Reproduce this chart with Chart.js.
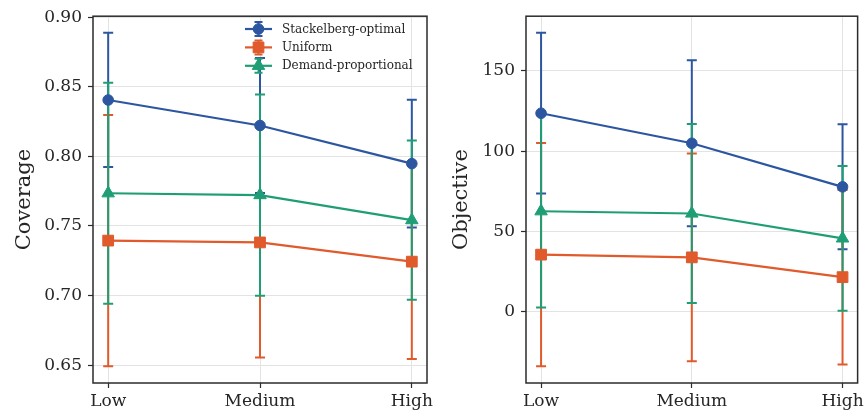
<!DOCTYPE html>
<html><head><meta charset="utf-8">
<script src="https://cdn.jsdelivr.net/npm/chart.js@4"></script>
<style>
html,body{margin:0;padding:0;background:#fff;}
#wrap{position:relative;width:867px;height:416px;overflow:hidden;}
#c1{position:absolute;left:0;top:0;}
#c2{position:absolute;left:437px;top:0;}
</style></head><body>
<div id="wrap"><canvas id="c1" width="437" height="416"></canvas><canvas id="c2" width="430" height="416"></canvas></div>
<script>
// ---- data ----
const categories = ['Low', 'Medium', 'High'];
const seriesNames = ['Stackelberg-optimal', 'Uniform', 'Demand-proportional'];

const coverageStackelberg    = [0.8405, 0.8222, 0.7948];
const coverageStackelbergErr = [0.0482, 0.0485, 0.0458];
const coverageUniform        = [0.7395, 0.7382, 0.7244];
const coverageUniformErr     = [0.0903, 0.0827, 0.0699];
const coverageDemand         = [0.7735, 0.7722, 0.7542];
const coverageDemandErr      = [0.0794, 0.0723, 0.0572];

const objectiveStackelberg    = [123.6, 104.9, 77.8];
const objectiveStackelbergErr = [50.0, 51.6, 38.9];
const objectiveUniform        = [35.6, 33.9, 21.6];
const objectiveUniformErr     = [69.5, 64.6, 54.3];
const objectiveDemand         = [62.6, 61.2, 45.7];
const objectiveDemandErr      = [59.9, 55.7, 45.0];

const coverageTicks  = [0.65, 0.70, 0.75, 0.80, 0.85, 0.90];
const objectiveTicks = [0, 50, 100, 150];

// ---- styles ----
const colors = ['#2c56a0', '#e05a2c', '#1f9e75'];
const pointStyles = ['circle', 'rect', 'triangle'];
const pointRadii = [5.3, 7.6, 7.2];
const FONT = "'DejaVu Serif', serif";
Chart.defaults.font.family = FONT;
Chart.defaults.color = '#262626';

function drawMarker(ctx, style, r, x, y, color) {
  ctx.save();
  ctx.fillStyle = color; ctx.strokeStyle = color; ctx.lineWidth = 1;
  ctx.beginPath();
  if (style === 'circle') {
    ctx.arc(x, y, r, 0, Math.PI * 2);
  } else if (style === 'rect') {
    const s = Math.SQRT1_2 * r;
    ctx.rect(x - s, y - s, 2 * s, 2 * s);
  } else {
    let rad = 0;
    ctx.moveTo(x + Math.sin(rad) * r, y - Math.cos(rad) * r);
    rad += 2 * Math.PI / 3;
    ctx.lineTo(x + Math.sin(rad) * r, y - Math.cos(rad) * r);
    rad += 2 * Math.PI / 3;
    ctx.lineTo(x + Math.sin(rad) * r, y - Math.cos(rad) * r);
    ctx.closePath();
  }
  ctx.fill(); ctx.stroke();
  ctx.restore();
}

const errorBarPlugin = {
  id: 'errorBars',
  beforeDatasetsDraw(chart, args, opts) {
    const ctx = chart.ctx, xs = chart.scales.x, ys = chart.scales.y;
    const errs = opts.errors;
    ctx.save();
    ctx.lineWidth = 2;
    chart.data.datasets.forEach((ds, di) => {
      ctx.strokeStyle = ds.borderColor;
      ds.data.forEach((p, i) => {
        const e = errs[di][i];
        const x = xs.getPixelForValue(p.x);
        const y1 = ys.getPixelForValue(p.y + e);
        const y2 = ys.getPixelForValue(p.y - e);
        ctx.beginPath();
        ctx.moveTo(x, y1); ctx.lineTo(x, y2);
        ctx.moveTo(x - 5, y1); ctx.lineTo(x + 5, y1);
        ctx.moveTo(x - 5, y2); ctx.lineTo(x + 5, y2);
        ctx.stroke();
      });
    });
    ctx.restore();
  }
};

const framePlugin = {
  id: 'frame',
  afterDatasetsDraw(chart) {
    const {left, right, top, bottom} = chart.chartArea;
    const ctx = chart.ctx;
    ctx.save();
    ctx.strokeStyle = '#2b2b2b';
    ctx.lineWidth = 1.5;
    ctx.strokeRect(left, top, right - left, bottom - top);
    ctx.restore();
  }
};

const legendPlugin = {
  id: 'customLegend',
  afterDraw(chart, args, opts) {
    if (!opts.show) return;
    const ctx = chart.ctx;
    const x0 = opts.x, y0 = opts.y, rowH = 18.4;
    ctx.save();
    ctx.font = "12px " + FONT;
    ctx.textBaseline = 'middle';
    ctx.fillStyle = '#262626';
    seriesNames.forEach((name, i) => {
      const y = y0 + i * rowH;
      const c = colors[i];
      ctx.strokeStyle = c;
      ctx.lineWidth = 2.2;
      ctx.beginPath();
      ctx.moveTo(x0, y); ctx.lineTo(x0 + 27, y);
      ctx.stroke();
      ctx.lineWidth = 2;
      const xm = x0 + 13.5;
      ctx.beginPath();
      ctx.moveTo(xm, y - 7); ctx.lineTo(xm, y + 7);
      ctx.moveTo(xm - 4, y - 7); ctx.lineTo(xm + 4, y - 7);
      ctx.moveTo(xm - 4, y + 7); ctx.lineTo(xm + 4, y + 7);
      ctx.stroke();
      drawMarker(ctx, pointStyles[i], pointRadii[i], xm, y, c);
      ctx.fillStyle = '#262626';
      ctx.fillText(name, x0 + 37, y + 0.5);
    });
    ctx.restore();
  }
};

function limits(means, errs) {
  let lo = Infinity, hi = -Infinity;
  means.forEach((m, k) => m.forEach((v, i) => {
    lo = Math.min(lo, v - errs[k][i]); hi = Math.max(hi, v + errs[k][i]);
  }));
  const pad = 0.05 * (hi - lo);
  return [lo - pad, hi + pad];
}

function makeChart(canvas, means, errs, ticks, title, fmt, yWidth, padRight, padTop, legend) {
  const [ymin, ymax] = limits(means, errs);
  const datasets = means.map((m, k) => ({
    label: seriesNames[k],
    data: m.map((v, i) => ({x: i, y: v})),
    borderColor: colors[k],
    backgroundColor: colors[k],
    borderWidth: 2.2,
    pointStyle: pointStyles[k],
    pointRadius: pointRadii[k],
    pointBorderWidth: 1,
    pointBackgroundColor: colors[k],
    pointBorderColor: colors[k],
    tension: 0,
    order: 3 - k
  }));
  return new Chart(canvas, {
    type: 'line',
    data: {datasets},
    options: {
      responsive: false,
      animation: false,
      events: [],
      layout: {padding: {left: 0, right: padRight, top: padTop, bottom: 0}},
      plugins: {
        legend: {display: false},
        tooltip: {enabled: false},
        errorBars: {errors: errs},
        customLegend: legend
      },
      scales: {
        x: {
          type: 'linear', min: -0.1, max: 2.1,
          afterBuildTicks: (s) => { s.ticks = categories.map((_, i) => ({value: i})); },
          afterFit: (s) => { s.height = 33; },
          ticks: {callback: (v) => categories[v], font: {size: 17}, padding: 3, maxRotation: 0, color: '#262626'},
          grid: {color: '#e3e3e3', lineWidth: 1, tickColor: '#2b2b2b', tickLength: 5, tickWidth: 1.2},
          border: {display: false}
        },
        y: {
          type: 'linear', min: ymin, max: ymax,
          afterBuildTicks: (s) => { s.ticks = ticks.map(v => ({value: v})); },
          afterFit: (s) => { s.width = yWidth; },
          ticks: {callback: fmt, font: {size: 17}, padding: 6, color: '#262626'},
          grid: {color: '#e3e3e3', lineWidth: 1, tickColor: '#2b2b2b', tickLength: 5, tickWidth: 1.2},
          border: {display: false},
          title: {display: true, text: title, font: {size: 21}, color: '#262626', padding: {top: 12, bottom: 0}}
        }
      }
    },
    plugins: [errorBarPlugin, framePlugin, legendPlugin]
  });
}

makeChart(document.getElementById('c1'),
  [coverageStackelberg, coverageUniform, coverageDemand],
  [coverageStackelbergErr, coverageUniformErr, coverageDemandErr],
  coverageTicks, 'Coverage', (v) => v.toFixed(2), 93, 10, 14,
  {show: true, x: 245, y: 29});

makeChart(document.getElementById('c2'),
  [objectiveStackelberg, objectiveUniform, objectiveDemand],
  [objectiveStackelbergErr, objectiveUniformErr, objectiveDemandErr],
  objectiveTicks, 'Objective', (v) => String(v), 89, 9, 13,
  {show: false});
</script>
</body></html>
